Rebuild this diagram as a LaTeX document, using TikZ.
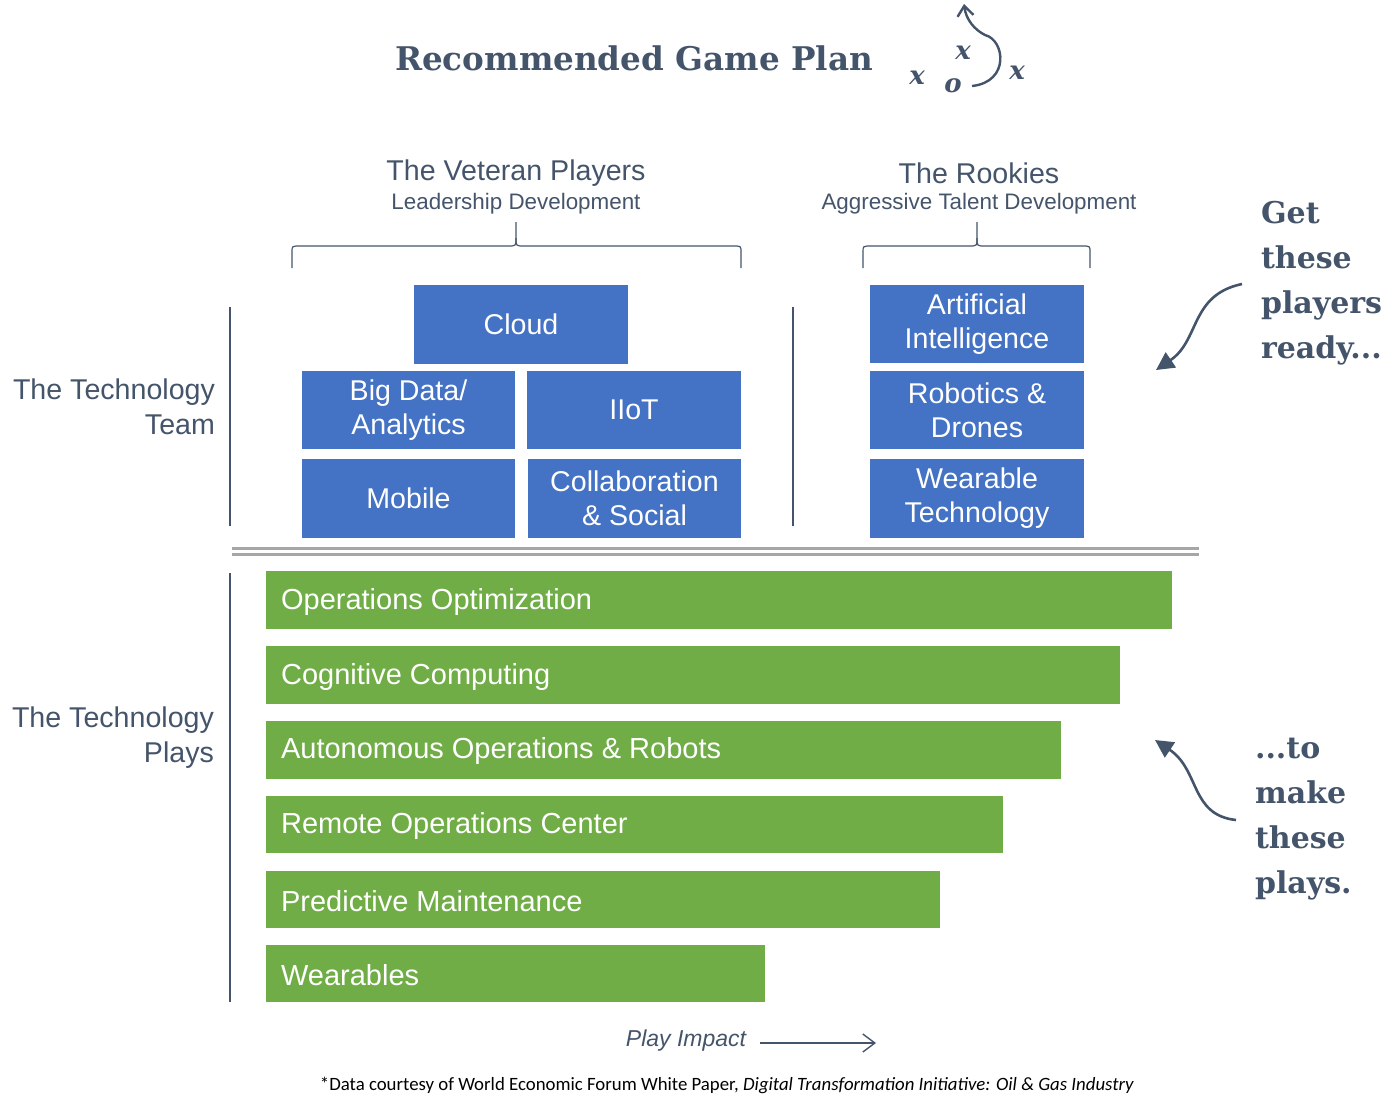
\documentclass[tikz,border=0pt]{standalone}
\usepackage{fontspec}
\setmainfont{Liberation Sans}
\newfontfamily\heavy{DejaVu Serif}
\newfontfamily\carlitofn{Carlito}
\usetikzlibrary{arrows.meta}
\definecolor{navy}{HTML}{44546A}
\definecolor{bl}{HTML}{4472C4}
\definecolor{gr}{HTML}{70AD47}
\begin{document}
\begin{tikzpicture}[x=0.5pt,y=-0.5pt,
 blk/.style={fill=bl,text=white,font=\fontsize{14.3}{17}\selectfont,align=center,inner sep=0},
 bar/.style={fill=gr},
 bt/.style={text=white,font=\fontsize{14.5}{16}\selectfont,anchor=west},
 hd/.style={text=navy,font=\fontsize{14.3}{16}\selectfont},
 sub/.style={text=navy,font=\fontsize{11.2}{13}\selectfont},
 big/.style={text=navy,font=\heavy\bfseries\fontsize{15}{22.5}\selectfont,align=left,anchor=north west},
 ln/.style={navy,line width=0.6pt}]
\useasboundingbox (0,0) rectangle (1385,1094);
\node[text=navy,font=\heavy\bfseries\fontsize{16.3}{20}\selectfont] (title) at (634,58) {Recommended Game Plan};
% play icon
\node[text=navy,font=\heavy\bfseries\itshape\fontsize{13}{13}\selectfont] (x1) at (917,78) {x};
\node[text=navy,font=\heavy\bfseries\itshape\fontsize{13}{13}\selectfont] (x2) at (963,53) {x};
\node[text=navy,font=\heavy\bfseries\itshape\fontsize{13}{13}\selectfont] (x3) at (1017,73) {x};
\node[text=navy,font=\heavy\bfseries\itshape\fontsize{13}{13}\selectfont] (o1) at (953,86) {o};
\coordinate (p0) at (972,86); \coordinate (p1) at (964,4);
\draw[navy,line width=1.2pt,-{Straight Barb[length=5pt,width=8pt]}] (p0) .. controls (1010,82) and (1005,40) .. (985,35) .. controls (975,30) and (966,20) .. (p1);
% headers
\node[hd] (vh) at (516,173) {The Veteran Players};
\node[sub] (vs) at (516,204) {Leadership Development};
\node[hd] (rh) at (979,173) {The Rookies};
\node[sub] (rs) at (979,204) {Aggressive Talent Development};
\draw[ln] (292,268) -- (292,252) .. controls (292,246) .. (300,246) -- (508,246) .. controls (516,246) .. (516,238) -- (516,222);
\draw[ln] (741,268) -- (741,252) .. controls (741,246) .. (733,246) -- (524,246) .. controls (516,246) .. (516,238);
\draw[ln] (863,268) -- (863,252) .. controls (863,246) .. (871,246) -- (969,246) .. controls (977,246) .. (977,238) -- (977,222);
\draw[ln] (1090,268) -- (1090,252) .. controls (1090,246) .. (1082,246) -- (985,246) .. controls (977,246) .. (977,238);
% team
\draw[ln] (230,307) -- (230,526);
\draw[ln] (793,307) -- (793,526);
\node[hd,align=right,anchor=east,font=\fontsize{14.3}{17.5}\selectfont] (tt) at (222,407) {The Technology\\Team};
\node[blk,minimum width=107pt,minimum height=39.5pt] (cloud) at (521,324) {Cloud};
\node[blk,minimum width=106.5pt,minimum height=39pt] (bd) at (408.5,410) {Big Data/\\Analytics};
\node[blk,minimum width=107pt,minimum height=39pt] (iiot) at (634,410) {IIoT};
\node[blk,minimum width=106.5pt,minimum height=39.5pt] (mob) at (408.5,498) {Mobile};
\node[blk,minimum width=106.5pt,minimum height=39.5pt] (col) at (634.5,498) {Collaboration\\\& Social};
\node[blk,minimum width=107pt,minimum height=39pt] (ai) at (977,324) {Artificial\\Intelligence};
\node[blk,minimum width=107pt,minimum height=39pt] (rob) at (977,410) {Robotics \&\\Drones};
\node[blk,minimum width=107pt,minimum height=39.5pt] (wt) at (977,498) {Wearable\\Technology};
\draw[gray!70,line width=1.5pt] (232,548) -- (1199,548) (232,554) -- (1199,554);
% plays
\draw[ln] (230,573) -- (230,1002);
\node[hd,align=right,anchor=east,font=\fontsize{14.3}{17.5}\selectfont] (tp) at (221,738) {The Technology\\Plays};
\fill[bar] (266,571) rectangle (1172,629);
\fill[bar] (266,646) rectangle (1120,704);
\fill[bar] (266,721) rectangle (1061,779);
\fill[bar] (266,796) rectangle (1003,853);
\fill[bar] (266,871) rectangle (940,928);
\fill[bar] (266,945) rectangle (765,1002);
\node[bt] (b1) at (274,602) {Operations Optimization};
\node[bt] (b2) at (274,677) {Cognitive Computing};
\node[bt] (b3) at (274,751) {Autonomous Operations \& Robots};
\node[bt] (b4) at (274,826) {Remote Operations Center};
\node[bt] (b5) at (274,901) {Predictive Maintenance};
\node[bt] (b6) at (274,975) {Wearables};
% right side
\node[big] (g1) at (1254,194) {Get\\these\\players\\ready...};
\node[big] (g2) at (1248,731) {...to\\make\\these\\plays.};
\coordinate (a0) at (1242,284); \coordinate (a1) at (1156,370);
\draw[navy,line width=1.3pt,-{Triangle[length=9pt,width=9pt]}] (a0) .. controls (1190,295) and (1200,340) .. (a1);
\coordinate (c0) at (1236,820); \coordinate (c1) at (1155,740);
\draw[navy,line width=1.3pt,-{Triangle[length=9pt,width=9pt]}] (c0) .. controls (1190,815) and (1200,770) .. (c1);
% bottom
\node[text=navy,font=\itshape\fontsize{11.5}{13}\selectfont] (pi) at (686,1041) {Play Impact};
\coordinate (pa) at (760,1043); \coordinate (pb) at (876,1043);
\draw[navy,line width=0.7pt,-{Straight Barb[length=6pt,width=9pt]}] (pa) -- (pb);
\node[font=\carlitofn\fontsize{9.4}{11}\selectfont] (fn) at (727,1085) {*Data courtesy of World Economic Forum White Paper, \textit{Digital Transformation Initiative: Oil \& Gas Industry}};
\end{tikzpicture}
\end{document}
